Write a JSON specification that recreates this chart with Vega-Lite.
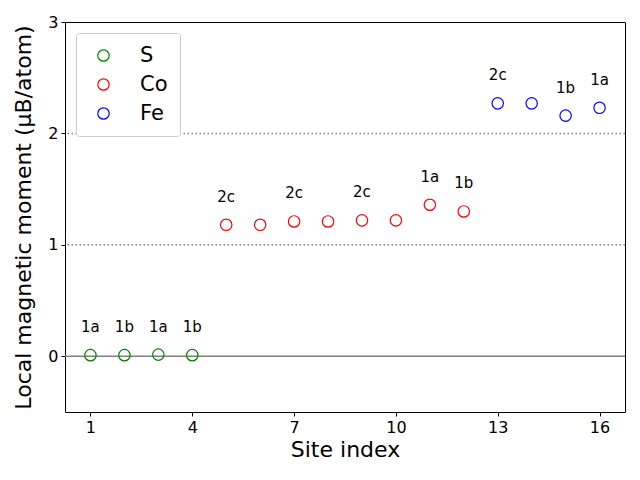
{
  "$schema": "https://vega.github.io/schema/vega-lite/v6.json",
  "width": 560,
  "height": 390,
  "autosize": "none",
  "padding": {"left": 65, "top": 22, "right": 15, "bottom": 68},
  "config": {
    "view": {"stroke": "black", "strokeWidth": 1},
    "font": "DejaVu Sans",
    "axis": {"grid": false, "domain": false, "tickColor": "black", "labelColor": "black", "titleColor": "black", "labelFontSize": 16, "titleFontSize": 22, "titleFontWeight": "normal", "tickSize": 4, "labelPadding": 3}
  },
  "datasets": {
    "pts": [
      {"site": 1, "m": 0.01, "el": "S", "lab": "1a"},
      {"site": 2, "m": 0.01, "el": "S", "lab": "1b"},
      {"site": 3, "m": 0.015, "el": "S", "lab": "1a"},
      {"site": 4, "m": 0.01, "el": "S", "lab": "1b"},
      {"site": 5, "m": 1.18, "el": "Co", "lab": "2c"},
      {"site": 6, "m": 1.18, "el": "Co", "lab": ""},
      {"site": 7, "m": 1.21, "el": "Co", "lab": "2c"},
      {"site": 8, "m": 1.21, "el": "Co", "lab": ""},
      {"site": 9, "m": 1.22, "el": "Co", "lab": "2c"},
      {"site": 10, "m": 1.22, "el": "Co", "lab": ""},
      {"site": 11, "m": 1.36, "el": "Co", "lab": "1a"},
      {"site": 12, "m": 1.30, "el": "Co", "lab": "1b"},
      {"site": 13, "m": 2.27, "el": "Fe", "lab": "2c"},
      {"site": 14, "m": 2.27, "el": "Fe", "lab": ""},
      {"site": 15, "m": 2.16, "el": "Fe", "lab": "1b"},
      {"site": 16, "m": 2.23, "el": "Fe", "lab": "1a"}
    ],
    "lines": [
      {"y": 0, "kind": "solid"},
      {"y": 1, "kind": "dotted"},
      {"y": 2, "kind": "dotted"}
    ]
  },
  "layer": [
    {
      "data": {"name": "lines"},
      "transform": [{"filter": "datum.kind == 'solid'"}],
      "mark": {"type": "rule", "color": "gray", "strokeWidth": 1.5},
      "encoding": {"y": {"field": "y", "type": "quantitative"}}
    },
    {
      "data": {"name": "lines"},
      "transform": [{"filter": "datum.kind == 'dotted'"}],
      "mark": {"type": "rule", "color": "gray", "strokeWidth": 1.5, "strokeDash": [1.5, 2.5]},
      "encoding": {"y": {"field": "y", "type": "quantitative"}}
    },
    {
      "data": {"name": "pts"},
      "mark": {"type": "point", "shape": "circle", "filled": false, "size": 130, "strokeWidth": 1.2, "opacity": 1},
      "encoding": {
        "x": {"field": "site", "type": "quantitative", "title": "Site index",
              "scale": {"domain": [0.25, 16.75], "nice": false, "zero": false},
              "axis": {"values": [1, 4, 7, 10, 13, 16], "format": "d", "titlePadding": 4}},
        "y": {"field": "m", "type": "quantitative", "title": "Local magnetic moment (μB/atom)",
              "scale": {"domain": [-0.5, 3], "nice": false},
              "axis": {"values": [0, 1, 2, 3], "format": "d", "titlePadding": 12}},
        "color": {"field": "el", "type": "nominal",
                  "scale": {"domain": ["S", "Co", "Fe"], "range": ["#008000", "#ff0000", "#0000ff"]},
                  "legend": {"title": null, "orient": "none", "legendX": 11, "legendY": 11,
                             "labelFontSize": 21, "symbolSize": 130, "symbolStrokeWidth": 1.2,
                             "symbolType": "circle", "symbolFillColor": "transparent",
                             "symbolOffset": 5, "rowPadding": 7, "labelOffset": 26, "padding": 12,
                             "strokeColor": "#cccccc", "cornerRadius": 3, "fillColor": "white"}}
      }
    },
    {
      "data": {"name": "pts"},
      "mark": {"type": "text", "fontSize": 15, "dy": -28, "color": "black"},
      "encoding": {
        "x": {"field": "site", "type": "quantitative"},
        "y": {"field": "m", "type": "quantitative"},
        "text": {"field": "lab"}
      }
    }
  ]
}
